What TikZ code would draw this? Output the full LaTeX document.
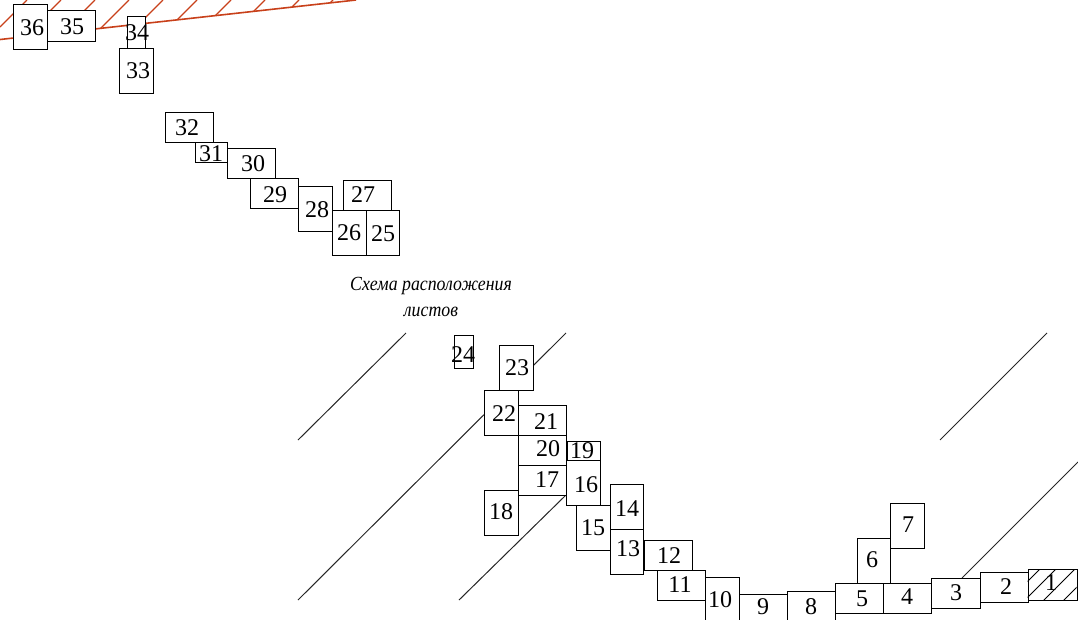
\documentclass[tikz,border=0pt]{standalone}
\usepackage{fontspec}
\setmainfont{Liberation Serif}
\definecolor{redline}{HTML}{C8401A}
\tikzset{
  sheetbox/.style={draw=black,fill=white,line width=1.1pt,inner sep=0pt,rectangle,xshift=-0.5pt,yshift=0.5pt},
  numlabel/.style={font=\fontsize{24}{24}\selectfont,inner sep=0pt,text=black,yshift=-0.7pt},
  captext/.style={font=\fontsize{20}{26}\selectfont\itshape,inner sep=0pt,align=center,text=black,xscale=0.89},
  diagline/.style={line width=1pt,black!85},
  river/.style={line width=1.6pt,redline}
}
% \sheet{number}{x1}{y1}{x2}{y2}{text x}{text y}
\newcommand{\sheet}[7]{%
  \node[sheetbox,anchor=north west,minimum width=#4pt-#2pt,minimum height=#5pt-#3pt] (b#1) at (#2,#3) {};
  \node[numlabel] (t#1) at (#6,#7) {#1};
}
\begin{document}
\begin{tikzpicture}[x=1pt,y=-1pt]
\useasboundingbox (0,0) rectangle (1078,619);
% red hatched line
\begin{scope}
\clip (0,0) rectangle (1078,619);
\draw[river] (0,39.5) -- (356,0);
\foreach \t in {27,61,95,129,163,197,231,265,299,333}{
  \pgfmathsetmacro{\xa}{max((\t-39.5)/0.889,0)}
  \pgfmathsetmacro{\ya}{\t-\xa}
  \draw[river,line width=1.3pt] (\xa,\ya) -- (\t,0);
}
\end{scope}
% diagonal lines
\draw[diagline] (298,440) -- (406,333);
\draw[diagline] (298,600) -- (566,333);
\draw[diagline] (459,600) -- (566,495);
\draw[diagline] (940,440) -- (1047,333);
\draw[diagline] (962,578) -- (1078,462);
% caption
\node[captext] (caption) at (431,297) {Схема расположения\\листов};
% sheets
\sheet{36}{13.5}{4.5}{47}{49.5}{32}{27}
\sheet{35}{47}{10.5}{95.5}{41}{72}{26}
\sheet{34}{127}{16}{145.5}{48}{137}{32}
\sheet{33}{119.5}{48.5}{153}{93.5}{138}{70}
\sheet{32}{165.5}{112.5}{213.5}{142.5}{187}{127}
\sheet{31}{195}{142.5}{227.5}{162}{211}{153}
\sheet{30}{227.5}{148}{275.5}{178}{253}{163}
\sheet{29}{250}{178}{298}{208}{275}{194}
\sheet{28}{298}{186}{332}{231}{317}{209}
\sheet{27}{343}{180}{391.5}{210}{363}{194}
\sheet{26}{332}{210}{366}{255}{349}{232}
\sheet{25}{366}{210}{399.5}{255}{383}{233}
\sheet{24}{454}{335.5}{473}{368.5}{463}{354}
\sheet{23}{499.5}{345.5}{533.5}{390.5}{517}{367}
\sheet{22}{484.5}{390.5}{518.5}{435.5}{504}{413}
\sheet{21}{518.5}{405.5}{566.5}{435.5}{546}{421}
\sheet{20}{518.5}{435.5}{566.5}{465.5}{548}{448}
\sheet{19}{567}{441.5}{600}{460.5}{582}{450}
\sheet{17}{518.5}{465.5}{566.5}{495.5}{547}{479}
\sheet{18}{484.5}{490.5}{518.5}{535}{501}{511}
\sheet{16}{566.5}{460.5}{600.5}{505}{586}{484}
\sheet{15}{576}{505}{610}{550}{593}{527}
\sheet{14}{610}{484}{643.5}{529}{627}{508}
\sheet{13}{610}{529}{643.5}{574}{628}{548}
\sheet{12}{644}{540.5}{692}{570.5}{669}{555}
\sheet{11}{657}{570.5}{705}{600.5}{680}{584}
\sheet{10}{705}{577}{739}{622}{720}{599}
\sheet{9}{739}{594}{787}{624}{763}{606}
\sheet{8}{787}{591.5}{835}{621.5}{811}{606}
\sheet{5}{835}{583}{883}{613}{862}{598}
\sheet{4}{883}{583}{931}{613}{907}{596}
\sheet{6}{857}{538}{890.5}{583}{872}{559}
\sheet{7}{890.5}{503.5}{924.5}{548.5}{908}{524}
\sheet{3}{931.5}{578.5}{980}{608.5}{956}{592}
\sheet{2}{980}{572.5}{1028}{602.5}{1006}{586}
% hatched sheet 1
\node[sheetbox,anchor=north west,minimum width=49pt,minimum height=30.5pt] (b1) at (1028,569.5) {};
\begin{scope}
\clip (1027.5,569) rectangle (1076.5,599.5);
\foreach \t in {1040,1056,1075,1095}{
  \draw[line width=1pt,black] (\t-32,601) -- (\t,569);
}
\end{scope}
\node[numlabel] (t1) at (1051,582) {1};
\end{tikzpicture}
\end{document}
